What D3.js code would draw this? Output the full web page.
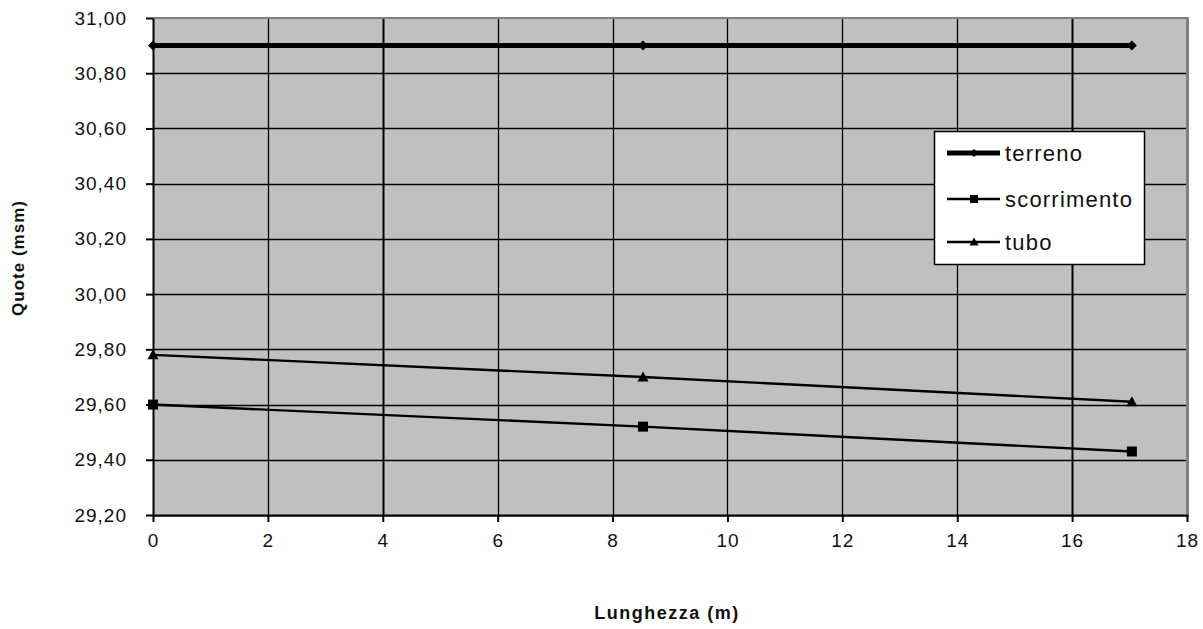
<!DOCTYPE html>
<html>
<head>
<meta charset="utf-8">
<script src="https://cdn.jsdelivr.net/npm/d3@7"></script>
<style>
  body { margin: 0; background: #fff; }
  svg { display: block; font-family: Arial, "Liberation Sans", sans-serif; }
</style>
</head>
<body>
<div id="chart"></div>
<script>
// distances along the pipe (m)
const distances = [0, 8.53, 17.04];
const terreno = [30.90, 30.90, 30.90];
const scorrimento = [29.60, 29.52, 29.43];
const tubo = [29.78, 29.70, 29.61];
const xTicks = [0, 2, 4, 6, 8, 10, 12, 14, 16, 18];
const yTicks = [29.2, 29.4, 29.6, 29.8, 30.0, 30.2, 30.4, 30.6, 30.8, 31.0];

const width = 1203, height = 629;
const margin = {top: 18, right: 16, bottom: 114, left: 153};

const svg = d3.select("#chart").append("svg")
    .attr("width", width)
    .attr("height", height);

const x = d3.scaleLinear().domain([0, 18]).range([margin.left, width - margin.right]);
const y = d3.scaleLinear().domain([29.2, 31.0]).range([height - margin.bottom, margin.top]);

const fmt = d => d3.format(".2f")(d).replace(".", ",");

// plot area + shadow border
svg.append("rect")
    .attr("x", x(0)).attr("y", y(31) - 1)
    .attr("width", x(18) - x(0) + 2).attr("height", y(29.2) - y(31) + 3)
    .attr("fill", "#808080");
svg.append("rect")
    .attr("x", x(0)).attr("y", y(31) + 1)
    .attr("width", x(18) - x(0) - 1).attr("height", y(29.2) - y(31) - 1)
    .attr("fill", "#c0c0c0");

// grid
svg.append("g")
    .selectAll("line")
    .data(yTicks.slice(1, -1))
    .enter().append("line")
    .attr("x1", x(0)).attr("x2", x(18) - 1)
    .attr("y1", d => Math.round(y(d)) + 0.5).attr("y2", d => Math.round(y(d)) + 0.5)
    .attr("stroke", "#000").attr("stroke-width", 1.5);

svg.append("g")
    .selectAll("line")
    .data(xTicks.slice(1, -1))
    .enter().append("line")
    .attr("x1", d => Math.round(x(d)) + 0.5).attr("x2", d => Math.round(x(d)) + 0.5)
    .attr("y1", y(31) + 1).attr("y2", y(29.2))
    .attr("stroke", "#000")
    .attr("stroke-width", d => (d === 4 || d === 16) ? 2 : 1.3);

// axes
const yAxis = svg.append("g")
    .attr("transform", `translate(${x(0)},0)`)
    .call(d3.axisLeft(y).tickValues(yTicks).tickFormat(fmt).tickSize(7).tickPadding(19).tickSizeOuter(0));
const xAxis = svg.append("g")
    .attr("transform", `translate(0,${y(29.2)})`)
    .call(d3.axisBottom(x).tickValues(xTicks).tickSize(7).tickPadding(12).tickSizeOuter(0));

[yAxis, xAxis].forEach(g => {
    g.select(".domain").attr("stroke", "#000").attr("stroke-width", 2);
    g.selectAll(".tick line").attr("stroke", "#000").attr("stroke-width", 2);
    g.selectAll("text")
        .attr("fill", "#111")
        .style("font-size", "19px")
        .style("letter-spacing", "1px")
        .style("font-family", "Arial, 'Liberation Sans', sans-serif");
});

// series
const series = [
    {name: "terreno", values: terreno, width: 5, marker: "diamond", size: 10},
    {name: "scorrimento", values: scorrimento, width: 2.4, marker: "square", size: 10},
    {name: "tubo", values: tubo, width: 2.4, marker: "triangle", size: 11}
];

const line = d3.line().x(d => x(d[0])).y(d => y(d[1]));

const markerPath = (type, s) => {
    if (type === "square") return `M${-s/2},${-s/2}h${s}v${s}h${-s}Z`;
    if (type === "triangle") return `M0,${-s/2}L${s/2},${s/2 - 1}L${-s/2},${s/2 - 1}Z`;
    return `M0,${-s/2}L${s/2},0L0,${s/2}L${-s/2},0Z`;
};

series.forEach(s => {
    const pts = distances.map((d, i) => [d, s.values[i]]);
    svg.append("path")
        .datum(pts)
        .attr("fill", "none")
        .attr("stroke", "#000")
        .attr("stroke-width", s.width)
        .attr("d", line);
    svg.append("g")
        .selectAll("path")
        .data(pts)
        .enter().append("path")
        .attr("transform", d => `translate(${x(d[0])},${y(d[1])})`)
        .attr("d", markerPath(s.marker, s.size))
        .attr("fill", "#000");
});

// legend
const legend = svg.append("g").attr("transform", "translate(934,131)");
legend.append("rect")
    .attr("x", 0.5).attr("y", 0.5)
    .attr("width", 210).attr("height", 133)
    .attr("fill", "#fff").attr("stroke", "#000").attr("stroke-width", 1.5);

const legendY = [22, 68, 111];
series.forEach((s, i) => {
    const ly = legendY[i];
    legend.append("line")
        .attr("x1", 13).attr("x2", 66)
        .attr("y1", ly).attr("y2", ly)
        .attr("stroke", "#000").attr("stroke-width", s.width);
    legend.append("path")
        .attr("transform", `translate(40,${ly})`)
        .attr("d", markerPath(s.marker, s.size - 2))
        .attr("fill", "#000");
    legend.append("text")
        .attr("x", 71).attr("y", ly + 8)
        .attr("fill", "#111")
        .style("font-size", "22px")
        .style("letter-spacing", "1.2px")
        .text(s.name);
});

// axis titles
svg.append("text")
    .attr("x", 667).attr("y", 619)
    .attr("text-anchor", "middle")
    .style("font-size", "18px")
    .style("font-weight", "bold")
    .style("letter-spacing", "1.5px")
    .attr("fill", "#111")
    .text("Lunghezza (m)");

svg.append("text")
    .attr("transform", "translate(24,258) rotate(-90)")
    .attr("text-anchor", "middle")
    .style("font-size", "17px")
    .style("font-weight", "bold")
    .style("letter-spacing", "1px")
    .attr("fill", "#111")
    .text("Quote (msm)");
</script>
</body>
</html>
